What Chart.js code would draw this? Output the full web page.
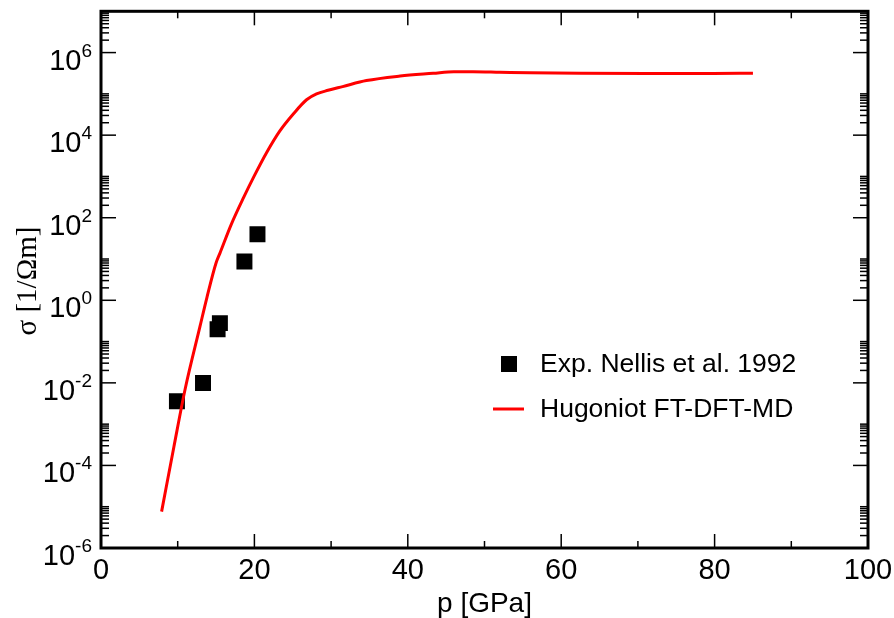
<!DOCTYPE html>
<html lang="en">
<head>
    <meta charset="UTF-8">
    <title>Conductivity along the Hugoniot</title>
    <style>
        body {
            margin: 0;
            background: #fff;
        }
        canvas {
            display: block;
        }
    </style>
</head>
<body>

<canvas id="myChart" width="894" height="618"></canvas>

<script src="https://cdn.jsdelivr.net/npm/chart.js"></script>
<script>
    // Hugoniot FT-DFT-MD (p in GPa, sigma in 1/Ohm m)
    const hugoniotP = [7.9, 9.5, 11.0, 12.9, 13.8, 15.0, 15.5, 17.0, 18.6, 19.9, 21.6, 23.3, 25.1, 26.8, 28.1,
        29.6, 31.5, 34.6, 39.0, 43.3, 46.0, 48.5, 52.0, 55.9, 62.5, 71.1, 79.8, 85.0];
    const hugoniotSigma = [7.6e-6, 2.8e-4, 7.5e-3, 0.23, 1.15, 8.0, 13.7, 70, 310, 960, 3.8e3, 1.25e4, 3.3e4,
        7.2e4, 1.0e5, 1.22e5, 1.5e5, 2.1e5, 2.7e5, 3.15e5, 3.45e5, 3.45e5, 3.35e5, 3.24e5, 3.14e5, 3.12e5,
        3.13e5, 3.16e5];

    // Exp. Nellis et al. 1992
    const nellisP = [9.9, 13.3, 15.2, 15.5, 18.7, 20.4];
    const nellisSigma = [0.0036, 0.0099, 0.2, 0.28, 8.75, 40];

    // axes
    const xMajorTicks = [0, 20, 40, 60, 80, 100];
    const xMinorTicks = [10, 30, 50, 70, 90];
    const yLabelExponents = [-6, -4, -2, 0, 2, 4, 6];
    const seriesLabels = ['Exp. Nellis et al. 1992', 'Hugoniot FT-DFT-MD'];
    const xTitle = 'p [GPa]';
    const yTitle = 'σ [1/Ωm]';

    const SANS = '"Liberation Sans", Arial, sans-serif';
    const SERIF = '"Liberation Serif", "Times New Roman", serif';

    // minor ticks: 2..10 x 10^e for each labelled decade
    const yMinorTicks = [];
    yLabelExponents.forEach(e => {
        for (let k = 2; k <= 10; k++) {
            const v = k * Math.pow(10, e);
            if (v <= 1e7) yMinorTicks.push(v);
        }
    });

    // frame, ticks, labels and legend
    const decorations = {
        id: 'decorations',
        afterDraw(chart) {
            const { ctx, chartArea: a, scales: { x, y } } = chart;
            ctx.save();
            ctx.strokeStyle = '#000';
            ctx.fillStyle = '#000';

            const seg = (x1, y1, x2, y2) => {
                ctx.beginPath();
                ctx.moveTo(x1, y1);
                ctx.lineTo(x2, y2);
                ctx.stroke();
            };

            ctx.lineWidth = 1.5;
            xMajorTicks.concat(xMinorTicks).forEach(v => {
                const len = xMajorTicks.includes(v) ? 14 : 7;
                const px = x.getPixelForValue(v);
                seg(px, a.bottom, px, a.bottom - len);
                seg(px, a.top, px, a.top + len);
            });
            yLabelExponents.forEach(e => {
                const py = y.getPixelForValue(Math.pow(10, e));
                seg(a.left, py, a.left + 15, py);
                seg(a.right, py, a.right - 15, py);
            });
            yMinorTicks.forEach(v => {
                const py = y.getPixelForValue(v);
                seg(a.left, py, a.left + 8, py);
                seg(a.right, py, a.right - 8, py);
            });

            ctx.lineWidth = 3;
            ctx.strokeRect(a.left, a.top, a.right - a.left, a.bottom - a.top);

            // x tick labels
            ctx.font = '29px ' + SANS;
            ctx.textAlign = 'center';
            ctx.textBaseline = 'alphabetic';
            xMajorTicks.forEach(v => {
                ctx.fillText(String(v), x.getPixelForValue(v), a.bottom + 31);
            });

            // y tick labels 10^n
            ctx.textAlign = 'left';
            yLabelExponents.forEach(e => {
                const py = y.getPixelForValue(Math.pow(10, e));
                ctx.font = '29px ' + SANS;
                const wBase = ctx.measureText('10').width;
                ctx.font = '19px ' + SANS;
                const wExp = ctx.measureText(String(e)).width;
                const x0 = a.left - 9 - wBase - wExp;
                ctx.font = '29px ' + SANS;
                ctx.fillText('10', x0, py + 17);
                ctx.font = '19px ' + SANS;
                ctx.fillText(String(e), x0 + wBase, py + 4);
            });

            // axis titles
            ctx.font = '28px ' + SANS;
            ctx.textAlign = 'center';
            ctx.fillText(xTitle, (a.left + a.right) / 2, 612);

            ctx.save();
            ctx.translate(28, 281);
            ctx.rotate(-Math.PI / 2);
            ctx.font = '29px ' + SERIF;
            ctx.textBaseline = 'middle';
            ctx.fillText(yTitle, 0, 0);
            ctx.restore();

            // legend
            ctx.font = '26.5px ' + SANS;
            ctx.textAlign = 'left';
            ctx.fillRect(501, 356, 16, 16);
            ctx.fillText(seriesLabels[0], 540, 372);
            ctx.strokeStyle = '#ff0000';
            ctx.lineWidth = 3;
            seg(493, 409, 524, 409);
            ctx.fillText(seriesLabels[1], 540, 417);

            ctx.restore();
        }
    };

    const ctx = document.getElementById('myChart').getContext('2d');
    new Chart(ctx, {
        type: 'scatter',
        data: {
            datasets: [{
                type: 'line',
                label: seriesLabels[1],
                data: hugoniotP.map((p, i) => ({ x: p, y: hugoniotSigma[i] })),
                borderColor: '#ff0000',
                borderWidth: 3,
                pointRadius: 0,
                cubicInterpolationMode: 'monotone',
                fill: false
            }, {
                label: seriesLabels[0],
                data: nellisP.map((p, i) => ({ x: p, y: nellisSigma[i] })),
                pointStyle: 'rect',
                pointRadius: 11.3,
                backgroundColor: '#000',
                borderColor: '#000',
                borderWidth: 0
            }]
        },
        options: {
            responsive: false,
            animation: false,
            devicePixelRatio: 1,
            layout: {
                padding: { left: 101, right: 26, top: 11, bottom: 70 }
            },
            plugins: {
                legend: { display: false },
                tooltip: { enabled: false }
            },
            scales: {
                x: {
                    type: 'linear',
                    min: 0,
                    max: 100,
                    grid: { display: false },
                    border: { display: false },
                    ticks: { display: false },
                    afterFit(scale) { scale.height = 0; }
                },
                y: {
                    type: 'logarithmic',
                    min: 1e-6,
                    max: 1e7,
                    grid: { display: false },
                    border: { display: false },
                    ticks: { display: false },
                    afterFit(scale) { scale.width = 0; }
                }
            }
        },
        plugins: [decorations]
    });
</script>

</body>
</html>
